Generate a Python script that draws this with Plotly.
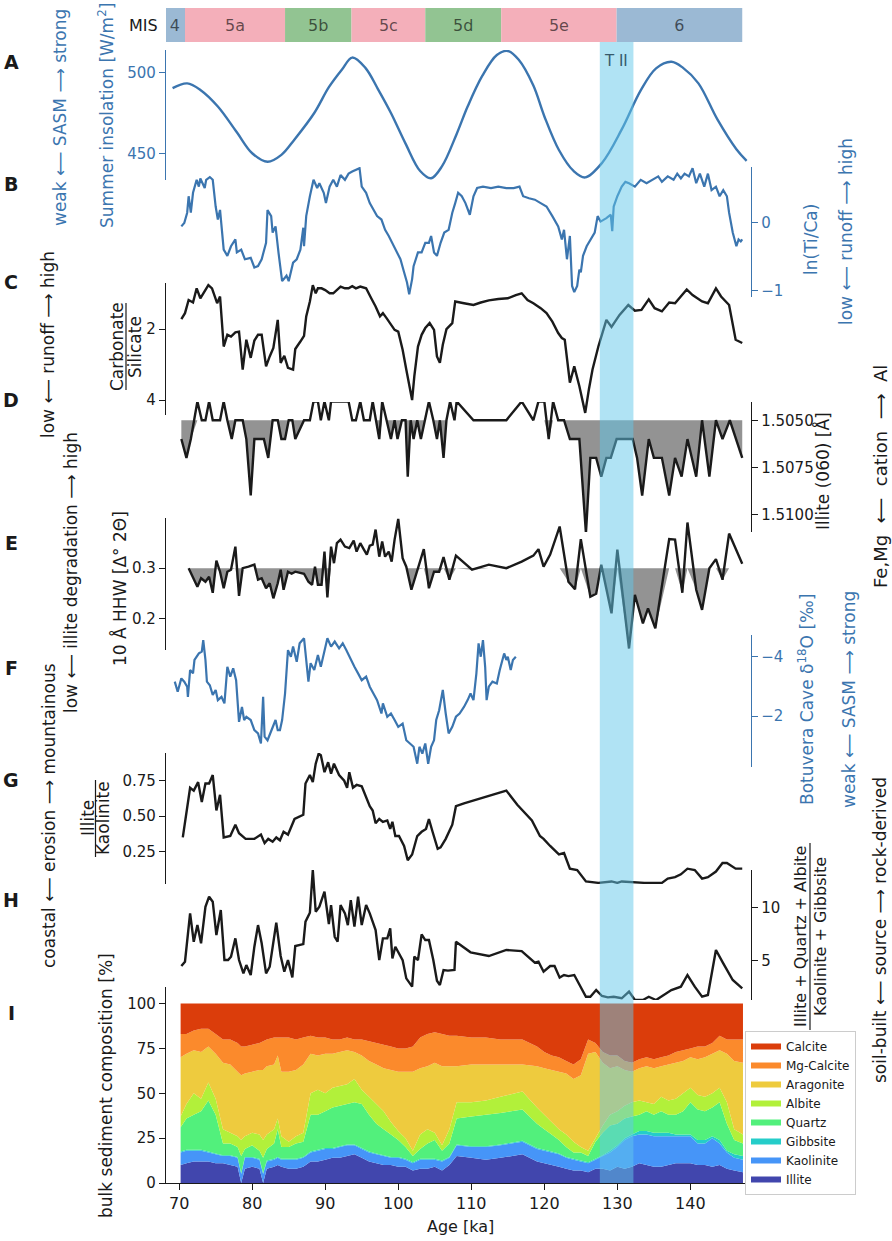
import numpy as np
import plotly.graph_objects as go

# ---------------- data (ages in ka) ----------------
mis_labels = ['4', '5a', '5b', '5c', '5d', '5e', '6']
mis_edges = [68.0, 70.8, 84.5, 93.6, 103.7, 114.1, 129.9, 147.1]
mis_colors = ['#9bb9d4', '#f4afba', '#92c492', '#f4afba', '#92c492', '#f4afba', '#9bb9d4']
tii_start, tii_end = 127.6, 132.2

# A: summer insolation
ins_age = [69.1, 71.1, 73.0, 75.3, 77.9, 80.0, 82.1, 84.0, 85.8, 88.5, 90.5, 92.3, 93.7, 95.5,
           97.2, 99.0, 101.0, 103.0, 104.5, 106.0, 108.0, 109.5, 111.5, 113.5, 115.0, 116.5,
           118.5, 120.0, 122.0, 124.0, 125.6, 127.9, 130.6, 133.2, 135.3, 137.4, 139.0, 141.1,
           143.7, 146.3, 147.7]
ins_val = [490.4, 493.4, 489.0, 479.0, 463.0, 450.0, 444.7, 449.0, 458.6, 475.0, 491.0, 502.0,
           509.4, 503.0, 490.0, 475.0, 456.0, 439.0, 434.5, 442.0, 462.0, 479.0, 498.0, 511.0,
           513.5, 508.0, 492.0, 473.0, 452.0, 439.0, 435.0, 444.0, 464.8, 489.0, 502.7, 506.8,
           503.0, 493.4, 471.0, 452.5, 445.3]

# B: ln(Ti/Ca)
ti_age = [70.3, 70.7, 71.1, 71.3, 71.6, 71.9, 72.4, 72.7, 72.9, 73.5, 73.7, 74.2, 74.6, 75.0,
          75.3, 75.6, 76.1, 76.6, 77.1, 77.7, 77.9, 78.5, 79.0, 79.8, 80.3, 80.8, 81.3, 81.9,
          82.1, 82.6, 82.8, 83.2, 83.6, 84.1, 84.7, 85.0, 85.6, 86.1, 86.6, 87.0, 87.1, 87.4,
          87.9, 88.4, 88.9, 89.2, 89.8, 90.1, 90.6, 91.1, 91.6, 92.1, 92.7, 93.2, 93.7, 94.2,
          94.7, 95.0, 95.6, 96.1, 96.6, 97.1, 97.7, 98.2, 98.7, 99.2, 99.8, 100.3, 100.8, 101.2,
          101.5, 101.9, 102.1, 102.7, 103.2, 103.7, 104.2, 104.5, 104.9, 105.3, 105.8, 106.3,
          106.9, 107.4, 107.8, 108.2, 108.7, 109.2, 109.8, 110.3, 110.8, 111.6, 112.7, 113.7,
          114.8, 115.8, 116.6, 117.1, 117.9, 118.7, 119.5, 120.3, 121.1, 121.9, 122.4, 122.7,
          123.1, 123.5, 123.8, 124.1, 124.5, 124.8, 125.0, 125.3, 125.8, 126.3, 126.9, 127.3,
          127.7, 128.5, 129.1, 129.3, 129.5, 130.0, 130.6, 131.1, 131.6, 132.4, 133.2, 134.0,
          134.8, 135.6, 136.1, 136.9, 137.7, 138.2, 138.7, 139.2, 139.8, 140.3, 140.8, 141.3,
          141.9, 142.4, 142.9, 143.5, 144.0, 144.5, 145.0, 145.3, 145.8, 146.3, 146.6, 146.9,
          147.1]
ti_val = [-0.06, -0.01, 0.14, 0.38, 0.14, 0.43, 0.62, 0.52, 0.64, 0.50, 0.62, 0.66, 0.62, 0.23,
          0.04, 0.18, -0.40, -0.49, -0.35, -0.25, -0.44, -0.40, -0.54, -0.52, -0.66, -0.64, -0.54,
          -0.30, 0.18, 0.09, -0.15, -0.06, -0.44, -0.86, -0.78, -0.86, -0.59, -0.54, -0.40, -0.08,
          -0.35, 0.09, 0.38, 0.62, 0.50, 0.57, 0.43, 0.28, 0.52, 0.62, 0.52, 0.69, 0.62, 0.71,
          0.74, 0.76, 0.79, 0.52, 0.43, 0.28, 0.18, 0.09, 0.04, -0.11, -0.20, -0.30, -0.44, -0.54,
          -0.73, -0.88, -1.05, -0.83, -0.64, -0.44, -0.44, -0.30, -0.30, -0.20, -0.44, -0.49,
          -0.30, -0.15, -0.11, 0.14, 0.28, 0.43, 0.38, 0.28, 0.11, 0.38, 0.50, 0.52, 0.50, 0.52,
          0.50, 0.50, 0.52, 0.38, 0.35, 0.33, 0.28, 0.23, 0.09, -0.06, -0.25, -0.11, -0.54, -0.20,
          -0.93, -1.02, -0.93, -0.69, -0.73, -0.49, -0.35, -0.25, -0.15, 0.09, 0.01, 0.06, 0.11,
          -0.13, 0.23, 0.38, 0.52, 0.59, 0.57, 0.52, 0.62, 0.57, 0.62, 0.67, 0.59, 0.67, 0.62,
          0.71, 0.64, 0.71, 0.67, 0.79, 0.57, 0.71, 0.52, 0.71, 0.47, 0.52, 0.38, 0.47, 0.38,
          0.14, -0.15, -0.35, -0.25, -0.28, -0.25]

# C: carbonate / silicate
carb_age = [70.3, 70.8, 71.3, 71.9, 72.4, 72.9, 74.0, 74.5, 75.2, 75.6, 76.1, 76.6, 77.1, 77.7,
            78.2, 78.7, 79.2, 79.8, 80.3, 80.8, 81.3, 81.9, 82.4, 82.9, 83.5, 83.9, 84.4, 84.9,
            85.6, 85.9, 86.6, 87.1, 87.4, 87.9, 88.3, 88.7, 89.0, 89.5, 90.0, 90.6, 91.1, 91.6,
            92.1, 92.7, 93.2, 93.7, 94.2, 94.8, 95.6, 96.3, 96.9, 97.5, 97.9, 98.4, 99.0, 99.5,
            100.0, 100.6, 101.1, 101.5, 101.9, 102.2, 102.7, 103.2, 103.7, 104.3, 104.9, 105.3,
            105.7, 106.1, 106.6, 107.4, 107.8, 109.0, 110.3, 111.3, 112.4, 113.7, 115.0, 116.1,
            116.9, 117.7, 118.5, 119.5, 120.3, 121.1, 121.9, 122.4, 122.8, 123.5, 124.1, 124.8,
            125.6, 126.1, 126.6, 127.4, 128.5, 129.2, 130.3, 131.5, 132.4, 133.3, 134.3, 135.1,
            136.1, 137.1, 137.9, 139.5, 140.3, 141.6, 142.4, 143.5, 144.2, 145.3, 146.2, 147.1]
carb_val = [1.72, 1.55, 1.18, 1.25, 0.85, 1.13, 0.76, 0.85, 1.27, 1.08, 2.49, 2.16, 2.21, 2.09,
            2.07, 3.14, 2.30, 2.81, 2.32, 2.16, 2.16, 3.05, 2.77, 2.53, 1.74, 2.95, 2.75, 3.09,
            3.14, 2.56, 2.35, 2.19, 1.64, 1.22, 0.76, 0.99, 0.85, 0.85, 0.90, 0.99, 0.99, 0.90,
            0.80, 0.85, 0.85, 0.79, 0.85, 0.80, 0.85, 1.13, 1.36, 1.64, 1.55, 1.69, 1.88, 2.02,
            2.07, 2.58, 3.14, 3.61, 4.00, 3.33, 2.49, 2.16, 1.97, 1.83, 2.02, 2.77, 2.95, 2.44,
            2.00, 1.83, 1.22, 1.27, 1.32, 1.25, 1.19, 1.15, 1.13, 1.04, 0.99, 1.18, 1.27, 1.41,
            1.55, 1.79, 2.11, 2.25, 2.30, 3.51, 3.05, 3.61, 4.36, 3.70, 3.14, 2.49, 1.74, 1.94,
            1.60, 1.32, 1.48, 1.46, 1.16, 1.41, 1.50, 1.25, 1.27, 0.88, 1.04, 1.22, 1.27, 0.85,
            1.08, 1.32, 2.30, 2.39]

# D: illite (060) spacing
d060_age = [70.3, 71.0, 71.6, 72.5, 73.1, 73.6, 74.1, 74.6, 75.6, 76.1, 76.6, 77.2, 77.7, 78.7,
            79.2, 79.8, 80.3, 81.6, 82.2, 82.8, 83.5, 84.0, 84.5, 85.0, 85.5, 85.9, 87.1, 87.9,
            88.4, 89.0, 89.4, 89.9, 90.5, 90.8, 93.2, 93.7, 94.2, 94.8, 95.3, 96.1, 96.5, 96.9,
            97.4, 97.8, 98.4, 99.0, 99.5, 99.9, 100.5, 101.0, 101.3, 101.7, 102.1, 102.6, 103.1,
            103.6, 104.2, 104.8, 105.3, 105.7, 106.2, 106.6, 107.1, 107.7, 108.0, 110.3, 114.8,
            116.9, 118.5, 119.2, 120.0, 120.6, 121.2, 121.9, 122.7, 123.5, 124.8, 125.7, 126.3,
            127.1, 127.8, 128.5, 129.1, 129.9, 132.1, 132.7, 133.4, 134.3, 135.0, 136.1, 137.1,
            137.9, 138.8, 139.6, 140.8, 141.6, 142.6, 143.5, 144.4, 145.4, 147.1]
d060_val = [1.5060, 1.5070, 1.5060, 1.5040, 1.5050, 1.5050, 1.5040, 1.5050, 1.5050, 1.5040,
            1.5050, 1.5060, 1.5050, 1.5050, 1.5060, 1.5090, 1.5060, 1.5060, 1.5070, 1.5050,
            1.5050, 1.5060, 1.5060, 1.5050, 1.5050, 1.5060, 1.5050, 1.5050, 1.5040, 1.5040,
            1.5050, 1.5040, 1.5050, 1.5040, 1.5040, 1.5050, 1.5050, 1.5040, 1.5050, 1.5050,
            1.5040, 1.5050, 1.5060, 1.5040, 1.5050, 1.5060, 1.5050, 1.5060, 1.5050, 1.5050,
            1.5080, 1.5050, 1.5060, 1.5050, 1.5060, 1.5050, 1.5040, 1.5050, 1.5060, 1.5050,
            1.5070, 1.5050, 1.5040, 1.5050, 1.5040, 1.5050, 1.5050, 1.5040, 1.5050, 1.5040,
            1.5040, 1.5060, 1.5040, 1.5050, 1.5050, 1.5060, 1.5060, 1.5110, 1.5070, 1.5070,
            1.5080, 1.5070, 1.5070, 1.5060, 1.5060, 1.5070, 1.5090, 1.5060, 1.5070, 1.5070,
            1.5090, 1.5070, 1.5080, 1.5060, 1.5080, 1.5050, 1.5080, 1.5050, 1.5060, 1.5050,
            1.5070]
d060_ref = 1.5050

# E: 10 A peak half-height width
hhw_age = [71.3, 71.9, 72.5, 73.0, 73.6, 74.1, 74.6, 75.1, 75.6, 76.1, 76.6, 77.1, 77.7, 78.2,
           78.7, 79.5, 80.3, 80.8, 81.3, 81.9, 82.4, 82.9, 83.5, 83.9, 84.3, 84.9, 85.4, 85.9,
           86.6, 87.1, 87.7, 88.2, 88.6, 89.0, 89.5, 89.9, 90.3, 90.8, 91.2, 91.6, 92.1, 92.7,
           93.3, 93.9, 94.3, 94.8, 95.3, 95.7, 96.1, 96.5, 96.9, 97.4, 97.8, 98.2, 98.7, 99.1,
           99.5, 100.0, 100.6, 101.1, 101.8, 102.6, 103.5, 104.2, 104.9, 105.6, 106.2, 107.0,
           107.9, 110.1, 112.4, 114.8, 116.9, 118.5, 119.2, 119.9, 120.8, 122.1, 123.3, 124.2,
           125.0, 126.3, 127.1, 127.8, 129.2, 130.0, 131.6, 132.4, 133.5, 134.2, 135.2, 137.1,
           137.9, 138.9, 139.6, 140.8, 141.6, 142.6, 143.5, 144.4, 145.3, 147.1]
hhw_val = [0.300, 0.283, 0.263, 0.280, 0.273, 0.283, 0.251, 0.315, 0.293, 0.260, 0.293, 0.297,
           0.343, 0.245, 0.300, 0.303, 0.307, 0.277, 0.280, 0.260, 0.270, 0.240, 0.270, 0.297,
           0.257, 0.293, 0.289, 0.293, 0.291, 0.289, 0.273, 0.267, 0.303, 0.267, 0.267, 0.333,
           0.242, 0.343, 0.310, 0.350, 0.357, 0.343, 0.340, 0.355, 0.333, 0.350, 0.337, 0.327,
           0.345, 0.347, 0.377, 0.323, 0.353, 0.323, 0.333, 0.313, 0.357, 0.398, 0.320, 0.303,
           0.257, 0.297, 0.338, 0.260, 0.293, 0.293, 0.322, 0.277, 0.325, 0.297, 0.307, 0.300,
           0.313, 0.325, 0.338, 0.303, 0.327, 0.383, 0.273, 0.258, 0.358, 0.243, 0.249, 0.307,
           0.210, 0.337, 0.140, 0.247, 0.190, 0.220, 0.180, 0.358, 0.357, 0.251, 0.391, 0.257,
           0.217, 0.300, 0.318, 0.277, 0.369, 0.309]
hhw_ref = 0.3

# F: Botuvera Cave d18O
d18o_age = [69.4, 69.8, 70.3, 70.7, 71.1, 71.2, 71.5, 71.9, 72.1, 72.7, 73.1, 73.3, 73.6, 73.8,
            74.2, 74.6, 75.0, 75.3, 75.8, 76.2, 76.6, 77.0, 77.4, 77.8, 78.2, 78.6, 78.9, 79.2,
            79.8, 80.3, 80.8, 81.2, 81.5, 81.7, 82.1, 82.7, 83.2, 83.5, 83.8, 84.1, 84.5, 84.9,
            85.3, 85.6, 86.1, 86.5, 87.1, 87.7, 88.0, 88.5, 89.0, 89.4, 89.9, 90.3, 90.8, 91.3,
            91.9, 92.4, 92.9, 93.5, 94.0, 94.5, 95.0, 95.6, 96.1, 96.6, 97.1, 97.7, 97.9, 98.5,
            99.0, 99.5, 100.0, 100.6, 101.1, 101.6, 102.1, 102.6, 102.9, 103.3, 103.7, 104.1,
            104.5, 104.9, 105.2, 105.6, 106.1, 106.5, 106.9, 107.4, 107.9, 108.4, 109.0, 109.5,
            109.9, 110.3, 110.7, 111.0, 111.3, 111.6, 111.9, 112.1, 112.4, 112.9, 113.5, 113.9,
            114.2, 114.5, 114.8, 115.0, 115.4, 115.7, 116.1]
d18o_val = [-3.16, -2.82, -3.27, -3.16, -2.99, -2.65, -3.55, -3.44, -3.89, -4.11, -4.17, -4.56,
            -3.89, -3.16, -3.04, -2.71, -2.88, -2.54, -2.65, -2.43, -3.66, -3.33, -3.61, -3.21,
            -1.81, -2.31, -1.87, -1.98, -1.87, -1.53, -1.42, -1.08, -2.65, -1.31, -1.19, -1.53,
            -1.87, -1.53, -1.53, -1.87, -2.76, -4.22, -4.00, -4.34, -3.83, -4.45, -4.62, -3.16,
            -3.78, -3.55, -4.06, -3.66, -4.22, -4.62, -4.34, -4.51, -4.28, -4.45, -4.22, -3.89,
            -3.66, -3.44, -3.21, -3.33, -2.99, -2.76, -2.54, -2.09, -2.43, -1.98, -2.09, -1.87,
            -1.64, -1.75, -1.19, -1.08, -0.97, -0.40, -0.97, -0.74, -1.08, -0.40, -0.97, -1.19,
            -1.87, -2.20, -2.88, -2.09, -1.42, -1.64, -1.98, -2.09, -2.31, -2.54, -2.76, -2.54,
            -3.44, -4.45, -4.00, -4.56, -3.66, -2.54, -2.99, -3.16, -3.10, -3.55, -3.89, -4.11,
            -3.89, -4.00, -3.55, -3.89, -4.00]

# G: illite / kaolinite
ik_age = [70.5, 71.0, 71.5, 72.0, 72.6, 73.1, 73.6, 74.1, 74.6, 75.1, 75.6, 76.1, 77.0, 77.7,
          78.2, 79.1, 80.3, 81.2, 81.7, 82.2, 82.8, 83.3, 83.8, 84.3, 84.9, 85.8, 87.0, 87.3,
          87.9, 88.3, 88.7, 89.1, 89.4, 89.9, 90.4, 90.8, 91.2, 91.9, 92.6, 93.0, 93.3, 93.8,
          94.3, 95.0, 95.6, 96.1, 96.5, 96.9, 97.4, 97.9, 98.5, 98.9, 99.2, 99.6, 100.1, 100.8,
          101.3, 101.9, 102.6, 103.2, 103.8, 104.2, 104.7, 105.4, 105.8, 106.5, 107.4, 107.9,
          109.0, 110.3, 112.4, 114.8, 116.3, 118.3, 119.4, 119.9, 120.8, 122.0, 122.7, 123.5,
          124.5, 125.7, 127.4, 129.2, 130.0, 130.6, 133.7, 136.1, 136.9, 137.9, 138.7, 139.6,
          140.6, 141.6, 142.4, 143.5, 144.4, 145.0, 146.2, 147.1]
ik_val = [0.35, 0.53, 0.70, 0.68, 0.74, 0.60, 0.73, 0.73, 0.79, 0.54, 0.65, 0.35, 0.36, 0.44,
          0.38, 0.34, 0.34, 0.37, 0.31, 0.34, 0.32, 0.35, 0.33, 0.39, 0.37, 0.48, 0.51, 0.73,
          0.79, 0.74, 0.87, 0.94, 0.93, 0.81, 0.88, 0.80, 0.87, 0.79, 0.75, 0.70, 0.81, 0.70,
          0.72, 0.71, 0.64, 0.57, 0.54, 0.45, 0.48, 0.46, 0.47, 0.41, 0.46, 0.36, 0.36, 0.29,
          0.19, 0.23, 0.36, 0.39, 0.41, 0.48, 0.39, 0.27, 0.28, 0.34, 0.44, 0.57, 0.59, 0.61,
          0.64, 0.68, 0.58, 0.47, 0.36, 0.34, 0.29, 0.23, 0.24, 0.13, 0.12, 0.04, 0.03, 0.04,
          0.03, 0.04, 0.03, 0.03, 0.06, 0.07, 0.09, 0.13, 0.12, 0.06, 0.07, 0.11, 0.17, 0.17,
          0.13, 0.13]

# H: (illite + quartz + albite) / (kaolinite + gibbsite)
ratio_age = [70.3, 70.8, 71.5, 72.0, 72.5, 73.0, 73.6, 74.1, 74.6, 75.1, 75.7, 76.2, 76.7, 77.1,
             77.7, 78.2, 78.8, 79.2, 79.8, 80.3, 80.8, 81.3, 81.9, 82.4, 83.3, 83.9, 84.4, 84.9,
             85.5, 85.9, 87.0, 87.3, 87.9, 88.3, 88.7, 89.2, 89.9, 90.5, 90.8, 91.3, 91.7, 92.1,
             92.7, 93.1, 93.5, 94.0, 94.5, 95.0, 95.6, 96.1, 96.9, 97.4, 97.9, 98.5, 98.9, 99.2,
             99.6, 100.1, 100.6, 101.1, 101.9, 102.2, 102.7, 103.2, 103.7, 104.2, 104.8, 105.3,
             105.7, 106.2, 106.8, 107.7, 107.9, 109.9, 112.4, 114.8, 116.9, 118.7, 119.2, 119.9,
             120.8, 121.4, 122.1, 122.7, 123.3, 124.1, 124.8, 125.7, 126.3, 127.1, 127.9, 128.7,
             129.5, 130.6, 131.6, 132.4, 133.5, 134.3, 135.3, 136.3, 137.4, 138.7, 139.6, 140.6,
             141.6, 142.4, 143.5, 144.5, 145.8, 147.1]
ratio_val = [4.50, 4.91, 9.47, 6.79, 8.36, 6.64, 10.09, 11.04, 10.57, 7.42, 9.78, 5.06, 5.06, 5.38,
             7.11, 5.06, 3.81, 4.59, 3.65, 6.32, 8.36, 6.64, 3.81, 4.43, 8.58, 5.44, 3.96, 5.06,
             3.43, 6.38, 6.57, 8.68, 9.53, 13.55, 9.62, 10.09, 11.51, 8.46, 10.25, 7.26, 6.79,
             10.25, 9.47, 8.36, 10.72, 8.21, 11.04, 8.36, 10.25, 9.47, 7.89, 5.06, 7.11, 7.11,
             8.05, 5.22, 6.32, 5.69, 5.06, 3.33, 2.55, 5.38, 5.06, 7.48, 6.95, 6.95, 5.06, 3.11,
             2.70, 4.12, 4.06, 4.12, 6.79, 5.79, 5.44, 6.01, 5.91, 4.81, 4.91, 3.96, 4.50, 4.50,
             3.40, 3.65, 3.55, 3.65, 2.70, 1.60, 1.60, 2.23, 1.67, 1.54, 1.60, 1.45, 2.08, 1.29,
             1.29, 1.60, 1.29, 1.76, 2.23, 2.55, 3.65, 2.55, 1.60, 1.76, 6.01, 4.75, 3.18, 2.39]

# I: bulk sediment composition [%]
comp_age = [70.2, 71, 72, 73, 74, 75, 76, 77, 78, 78.5, 79, 80, 81, 81.5, 82, 83, 83.5, 84, 85,
            86, 87, 88, 89, 90, 91, 92, 93, 94, 95, 96, 97, 98, 99, 100, 101, 102, 103, 104, 105,
            106, 107, 108, 110, 112, 114, 117, 119, 120, 121, 122, 123, 124, 125, 126, 127, 128,
            129, 130, 131, 132, 133, 134, 135, 136, 137, 138, 139, 140, 141, 142, 143, 144, 145,
            146, 147.2]
illite = [10, 11, 12, 12, 12, 11, 11, 10, 9, 0, 8, 9, 8, 0, 8, 9, 10, 9, 8, 8, 9, 12, 12, 13, 14,
          14, 15, 16, 14, 12, 11, 10, 10, 9, 9, 7, 8, 8, 9, 7, 10, 15, 14, 13, 14, 16, 12, 11, 10,
          9, 8, 7, 7, 6, 8, 8, 7, 9, 8, 9, 11, 10, 9, 9, 10, 11, 11, 11, 10, 10, 9, 10, 8, 7, 6]
kaolinite = [7, 7, 6, 6, 5, 5, 4, 5, 5, 5, 6, 5, 5, 5, 4, 4, 4, 4, 5, 5, 5, 5, 6, 6, 5, 6, 6, 5,
             5, 5, 5, 5, 4, 5, 4, 4, 5, 5, 4, 5, 4, 6, 6, 7, 7, 7, 7, 7, 7, 7, 6, 6, 5, 5, 5, 7, 10,
             11, 16, 17, 16, 17, 17, 17, 16, 15, 15, 15, 12, 12, 16, 12, 9, 7, 7]
gibbsite = [0.5] * 56 + [1, 1, 1, 1, 2, 2, 2, 2, 2, 1, 1, 1, 2, 2, 1, 2, 1, 2, 2]
quartz = [13.5, 17.5, 19.5, 21.5, 28.5, 21.5, 6.5, 6.5, 5.5, 9.5, 4.5, 6.5, 4.5, 8.5, 6.5, 8.5,
          15.5, 6.5, 6.5, 8.5, 8.5, 20.5, 19.5, 20.5, 22.5, 22.5, 22.5, 23.5, 24.5, 20.5, 16.5,
          14.5, 12.5, 9.5, 6.5, 3.5, 5.5, 8.5, 10.5, 5.5, 7.5, 14.5, 16.5, 17.5, 17.5, 17.5, 13.5,
          11.5, 9.5, 7.5, 5.5, 3.5, 4.5, 3.5, 9.5, 12.5, 14, 12, 11, 10, 9, 11, 10, 12, 10, 11,
          13, 18, 17, 16, 16, 21, 15, 8, 7]
albite = [6, 8, 12, 7, 10, 9, 8, 6, 6, 9, 7, 7, 9, 10, 8, 8, 6, 6, 3, 4, 5, 12, 14, 10, 11, 11,
          11, 13, 8, 10, 11, 10, 7, 5, 5, 3, 8, 8, 4, 3, 8, 9, 8, 8, 9, 10, 9, 8, 7, 6, 7, 6, 3, 3,
          2, 4, 6, 7, 7, 8, 8, 5, 6, 8, 8, 9, 10, 8, 8, 8, 8, 8, 12, 6, 5]
aragonite = [33, 28, 24, 26, 20, 25, 37, 38, 36, 36, 35, 34, 36, 39, 38, 36, 35, 36, 39, 37, 38,
             22, 19, 22, 19, 19, 19, 15, 19, 20, 22, 24, 29, 33, 37, 44, 37, 35, 39, 44, 35, 20,
             21, 20, 18, 15, 23, 26, 29, 32, 34, 35, 40, 54, 48, 35, 26, 25, 20, 17, 18, 20, 20,
             17, 20, 20, 18, 17, 20, 22, 22, 21, 27, 38, 40]
mg_calcite = [13, 11, 11, 13, 10, 11, 13, 14, 16, 16, 15, 15, 15, 16, 15, 15, 10, 19, 19, 17, 15,
              10, 10, 9, 8, 7, 7, 7, 9, 11, 12, 13, 13, 13, 13, 14, 17, 18, 17, 18, 17, 17, 15, 15,
              14, 14, 11, 9, 8, 8, 7, 8, 9, 8, 5, 6, 7, 6, 5, 5, 5, 5, 5, 5, 5, 6, 6, 5, 7, 6, 6,
              8, 8, 12, 13]
calcite = [17, 17, 15, 14, 14, 17, 20, 20, 22, 24, 24, 23, 22, 21, 20, 19, 19, 19, 19, 20, 19, 18,
           19, 19, 20, 20, 19, 20, 20, 21, 22, 23, 24, 25, 25, 24, 19, 17, 16, 17, 18, 18, 19, 19,
           20, 20, 24, 27, 29, 30, 32, 34, 31, 20, 22, 27, 29, 29, 32, 33, 31, 30, 31, 30, 29, 27,
           26, 25, 24, 24, 22, 18, 20, 20, 20]

minerals = [('Illite', illite, '#4146ad'), ('Kaolinite', kaolinite, '#4695f8'),
            ('Gibbsite', gibbsite, '#25cdc9'), ('Quartz', quartz, '#52f07c'),
            ('Albite', albite, '#b2f03a'), ('Aragonite', aragonite, '#eecb3e'),
            ('Mg-Calcite', mg_calcite, '#fb8a2c'), ('Calcite', calcite, '#db3d0b')]

# ---------------- styling / layout helpers ----------------
BLUE = '#3b75af'
BLACK = '#1a1a1a'
GRAY = '#939393'
FONT = 'DejaVu Sans'
W, H = 892, 1241
ML, MR, MT, MB = 166, 141, 8, 58
SP = '\u00a0'


def px(x):
    return (x - ML) / (W - ML - MR)


def py(y):
    return (H - MB - y) / (H - MT - MB)


def dom(top, bottom):
    return [py(bottom), py(top)]


def yax(top, bottom, rng, side, color, tickvals, ticktext=None):
    return dict(domain=dom(top, bottom), range=rng, anchor='x', side=side,
                showline=True, linecolor=color, linewidth=1.4, ticks='outside',
                ticklen=6, tickwidth=1.4, tickcolor=color, tickvals=tickvals,
                ticktext=ticktext, tickfont=dict(family=FONT, size=15, color=color),
                showgrid=False, zeroline=False, fixedrange=True)


fig = go.Figure()

# MIS stage bar
fig.add_trace(go.Bar(y=[0.5] * len(mis_labels), x=np.diff(mis_edges), base=mis_edges[:-1],
                     orientation='h', width=1, marker=dict(color=mis_colors, line_width=0),
                     text=mis_labels, textposition='inside', insidetextanchor='middle',
                     textangle=0, constraintext='none',
                     textfont=dict(family=FONT, size=16, color='rgba(0,0,0,0.6)'),
                     yaxis='y10', showlegend=False, hoverinfo='skip'))

fig.add_trace(go.Scatter(x=ins_age, y=ins_val, mode='lines', line=dict(color=BLUE, width=2.4, shape='spline'),
                         yaxis='y', showlegend=False))
fig.add_trace(go.Scatter(x=ti_age, y=ti_val, mode='lines', line=dict(color=BLUE, width=2.2),
                         yaxis='y2', showlegend=False))
fig.add_trace(go.Scatter(x=carb_age, y=carb_val, mode='lines', line=dict(color=BLACK, width=2.4),
                         yaxis='y3', showlegend=False))

# D: shaded where spacing exceeds the reference value
fig.add_trace(go.Scatter(x=[d060_age[0], d060_age[-1]], y=[d060_ref, d060_ref], mode='lines',
                         line=dict(width=0), yaxis='y4', showlegend=False, hoverinfo='skip'))
fig.add_trace(go.Scatter(x=d060_age, y=np.maximum(d060_val, d060_ref), mode='lines', line=dict(width=0),
                         fill='tonexty', fillcolor=GRAY, yaxis='y4', showlegend=False, hoverinfo='skip'))
fig.add_trace(go.Scatter(x=d060_age, y=d060_val, mode='lines', line=dict(color=BLACK, width=2.4),
                         yaxis='y4', showlegend=False))

# E: shaded where width is below the reference value
fig.add_trace(go.Scatter(x=[hhw_age[0], hhw_age[-1]], y=[hhw_ref, hhw_ref], mode='lines',
                         line=dict(width=0), yaxis='y5', showlegend=False, hoverinfo='skip'))
fig.add_trace(go.Scatter(x=hhw_age, y=np.minimum(hhw_val, hhw_ref), mode='lines', line=dict(width=0),
                         fill='tonexty', fillcolor=GRAY, yaxis='y5', showlegend=False, hoverinfo='skip'))
fig.add_trace(go.Scatter(x=hhw_age, y=hhw_val, mode='lines', line=dict(color=BLACK, width=2.4),
                         yaxis='y5', showlegend=False))

fig.add_trace(go.Scatter(x=d18o_age, y=d18o_val, mode='lines', line=dict(color=BLUE, width=2.2),
                         yaxis='y6', showlegend=False))
fig.add_trace(go.Scatter(x=ik_age, y=ik_val, mode='lines', line=dict(color=BLACK, width=2.4),
                         yaxis='y7', showlegend=False))
fig.add_trace(go.Scatter(x=ratio_age, y=ratio_val, mode='lines', line=dict(color=BLACK, width=2.4),
                         yaxis='y8', showlegend=False))

for name, vals, color in minerals:
    fig.add_trace(go.Scatter(x=comp_age, y=vals, name=name, mode='none', stackgroup='comp',
                             fillcolor=color, yaxis='y9'))

blue_num = lambda v: [str(t).replace('-', '\u2212') for t in v]

fig.update_layout(
    width=W, height=H, autosize=False,
    margin=dict(l=ML, r=MR, t=MT, b=MB),
    paper_bgcolor='white', plot_bgcolor='rgba(0,0,0,0)',
    font=dict(family=FONT, color=BLACK),
    xaxis=dict(domain=[0, 1], range=[68.2, 148.3], anchor='y9', showline=True, linecolor=BLACK,
               linewidth=1.4, ticks='outside', ticklen=6, tickwidth=1.4, tickcolor=BLACK,
               tickvals=list(range(70, 150, 10)), tickfont=dict(family=FONT, size=16),
               showgrid=False, zeroline=False),
    yaxis=yax(50, 180, [433.4, 514.1], 'left', BLUE, [450, 500]),
    yaxis2=yax(167, 297, [-1.091, 0.807], 'right', BLUE, [-1, 0], blue_num([-1, 0])),
    yaxis3=yax(283, 415, [4.42, 0.70], 'left', BLACK, [2, 4]),
    yaxis4=yax(402, 532, [1.51094, 1.50403], 'right', BLACK, [1.505, 1.5075, 1.51],
               ['1.5050', '1.5075', '1.5100']),
    yaxis5=yax(518, 650, [0.137, 0.40], 'left', BLACK, [0.2, 0.3]),
    yaxis6=yax(635, 767, [-0.29, -4.73], 'right', BLUE, [-4, -2], blue_num([-4, -2])),
    yaxis7=yax(753, 884, [0.022, 0.945], 'left', BLACK, [0.25, 0.5, 0.75], ['0.25', '0.50', '0.75']),
    yaxis8=yax(870, 1000, [1.29, 13.56], 'right', BLACK, [5, 10]),
    yaxis9=yax(987, 1183, [0, 109.2], 'left', BLACK, [0, 25, 50, 75, 100]),
    yaxis10=dict(domain=dom(8, 42), range=[0, 1], anchor='x', visible=False, fixedrange=True),
    showlegend=True,
    legend=dict(x=px(745), y=py(1031), xanchor='left', yanchor='top', traceorder='reversed',
                bgcolor='white', bordercolor='#cccccc', borderwidth=1,
                font=dict(family=FONT, size=12, color=BLACK), tracegroupgap=0),
)

# Termination II band
fig.add_shape(type='rect', xref='x', yref='paper', x0=tii_start, x1=tii_end, y0=0, y1=py(42),
              fillcolor='rgba(97,200,234,0.5)', line_width=0, layer='above')

ann = []


def label(text, x, y, color=BLACK, size=17, angle=-90, bold=False):
    if bold:
        text = '<b>' + text + '</b>'
    ann.append(dict(text=text, x=px(x), y=py(y), xref='paper', yref='paper', showarrow=False,
                    textangle=angle, xanchor='center', yanchor='middle',
                    font=dict(family=FONT, size=size, color=color)))


for letter, yy in zip('ABCDEFGHI', [62, 184, 282, 400, 543, 668, 780, 900, 1013]):
    label(letter, 11, yy, size=19, angle=0, bold=True)

label('MIS', 143, 25, size=16, angle=0)
label('T II', 616, 61, color='#36596b', size=15, angle=0)
label('Age [ka]', 460, 1226, size=16, angle=0)

# left side
label('weak \u27f5 SASM \u27f6 strong', 60, 118, BLUE)
label('Summer insolation [W/m<sup>2</sup>]', 106, 116, BLUE)
label('low \u27f5 runoff \u27f6 high', 48, 345)
label('Carbonate', 117, 347)
label('Silicate', 135, 347)
label('low \u27f5 illite degradation \u27f6 high', 71, 573)
label('10 \u00c5 HHW [\u0394\u00b0 2\u0398]', 119, 589)
label('coastal \u27f5 erosion \u27f6 mountainous', 49, 816)
label('Illite', 88, 818)
label('Kaolinite', 103, 818)
label('bulk sediment composition [%]', 106, 1086)

# right side
label('ln(Ti/Ca)', 811, 240, BLUE)
label('low \u27f5 runoff \u27f6 high', 846, 232, BLUE)
label('Illite (060) [\u00c5]', 822, 471)
label('Fe,Mg' + SP * 2 + '\u27f5' + SP * 2 + 'cation' + SP * 2 + '\u27f6' + SP * 2 + 'Al', 880, 477, size=18)
label('Botuvera Cave \u03b4<sup>18</sup>O [\u2030]', 806, 700, BLUE)
label('weak \u27f5 SASM \u27f6 strong', 849, 700, BLUE)
label('Illite + Quartz + Albite', 800, 937, size=16)
label('Kaolinite + Gibbsite', 820, 937, size=16)
label('soil-built \u27f5 source \u27f6 rock-derived', 880, 930)

fig.update_layout(annotations=ann)

# fraction bars
for xb, y0, y1 in [(126, 303, 390), (95.5, 780, 857), (810, 843, 1030)]:
    fig.add_shape(type='line', xref='paper', yref='paper', x0=px(xb), x1=px(xb), y0=py(y0), y1=py(y1),
                  line=dict(color=BLACK, width=1.2))

fig.write_html("out.html", config={'displayModeBar': False},
               post_script="document.body.style.margin='0';")
